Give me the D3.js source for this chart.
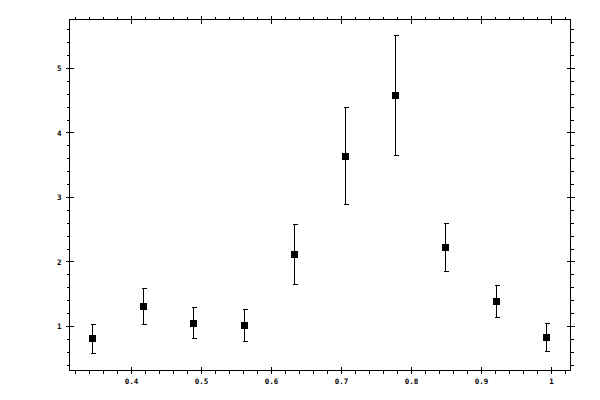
<!DOCTYPE html>
<html><head><meta charset="utf-8">
<script src="https://cdn.jsdelivr.net/npm/d3@7"></script>
<style>body{margin:0;background:#fff}svg{display:block}</style>
</head><body>
<svg id="c" width="600" height="400"></svg>
<script>
const xValues = [0.345, 0.417, 0.489, 0.561, 0.633, 0.705, 0.777, 0.849, 0.921, 0.993];
const yValues = [0.81, 1.31, 1.05, 1.016, 2.116, 3.64, 4.58, 2.225, 1.388, 0.829];
const yErrors = [0.225, 0.279, 0.24, 0.25, 0.46, 0.75, 0.93, 0.37, 0.253, 0.21];
const xMajorTicks = [0.4, 0.5, 0.6, 0.7, 0.8, 0.9, 1.0];
const xTickLabels = ["0.4", "0.5", "0.6", "0.7", "0.8", "0.9", "1"];
const yMajorTicks = [1, 2, 3, 4, 5];
const yTickLabels = ["1", "2", "3", "4", "5"];

const svg = d3.select("#c");
const L = 69.5, R = 570.5, T = 19.5, B = 370.5;
const x = d3.scaleLinear().domain([0.31143, 1.02714]).range([L, R]);
const y = d3.scaleLinear().domain([0.3178, 5.7597]).range([B, T]);

const xMinor = d3.range(16, 52).map(i => i * 0.02).filter(v => v > 0.3115 && v < 1.027 && Math.abs(v * 10 - Math.round(v * 10)) > 1e-6);
const yMinor = d3.range(2, 29).map(i => i * 0.2).filter(v => v > 0.318 && v < 5.759 && Math.abs(v - Math.round(v)) > 1e-6);

const g = svg.append("g").attr("shape-rendering", "crispEdges").attr("stroke", "#000").attr("stroke-width", 1);
g.append("rect").attr("x", L).attr("y", T).attr("width", R - L).attr("height", B - T).attr("fill", "none");

const px = v => Math.round(x(v) - 0.5) + 0.5;
const py = v => Math.round(y(v) - 0.5) + 0.5;

// major ticks crossing both sides
xMajorTicks.forEach(v => {
  g.append("line").attr("x1", px(v)).attr("x2", px(v)).attr("y1", B - 4).attr("y2", B + 3);
  g.append("line").attr("x1", px(v)).attr("x2", px(v)).attr("y1", T - 4).attr("y2", T + 4);
});
yMajorTicks.forEach(v => {
  g.append("line").attr("y1", py(v)).attr("y2", py(v)).attr("x1", L - 4).attr("x2", L + 4);
  g.append("line").attr("y1", py(v)).attr("y2", py(v)).attr("x1", R - 4).attr("x2", R + 4);
});
// minor ticks outside
xMinor.forEach(v => {
  g.append("line").attr("x1", px(v)).attr("x2", px(v)).attr("y1", B).attr("y2", B + 3);
  g.append("line").attr("x1", px(v)).attr("x2", px(v)).attr("y1", T).attr("y2", T - 3);
});
yMinor.forEach(v => {
  g.append("line").attr("y1", py(v)).attr("y2", py(v)).attr("x1", L).attr("x2", L - 3);
  g.append("line").attr("y1", py(v)).attr("y2", py(v)).attr("x1", R).attr("x2", R + 3);
});

// labels
const lab = svg.append("g").attr("font-family", "DejaVu Sans Mono").attr("font-size", "7.5px").attr("font-weight", "bold").attr("fill", "#000");
xMajorTicks.forEach((v, i) => {
  lab.append("text").attr("x", x(v)).attr("y", 383.5).attr("text-anchor", "middle").text(xTickLabels[i]);
});
yMajorTicks.forEach((v, i) => {
  lab.append("text").attr("x", 61.5).attr("y", y(v) + 2.8).attr("text-anchor", "end").text(yTickLabels[i]);
});

// error bars and markers
const data = xValues.map((xv, i) => ({ x: xv, y: yValues[i], e: yErrors[i] }));
const eb = svg.append("g").attr("shape-rendering", "crispEdges").attr("stroke", "#000").attr("stroke-width", 1);
data.forEach(d => {
  const cx = px(d.x);
  eb.append("line").attr("x1", cx).attr("x2", cx).attr("y1", py(d.y + d.e)).attr("y2", py(d.y - d.e));
  eb.append("line").attr("x1", cx - 2).attr("x2", cx + 3).attr("y1", py(d.y + d.e)).attr("y2", py(d.y + d.e));
  eb.append("line").attr("x1", cx - 2).attr("x2", cx + 3).attr("y1", py(d.y - d.e)).attr("y2", py(d.y - d.e));
});
svg.append("g").attr("shape-rendering", "crispEdges").selectAll("rect").data(data).join("rect")
  .attr("x", d => px(d.x) - 3.5).attr("y", d => py(d.y) - 3.5)
  .attr("width", 7).attr("height", 7).attr("fill", "#000");
</script>
</body></html>
